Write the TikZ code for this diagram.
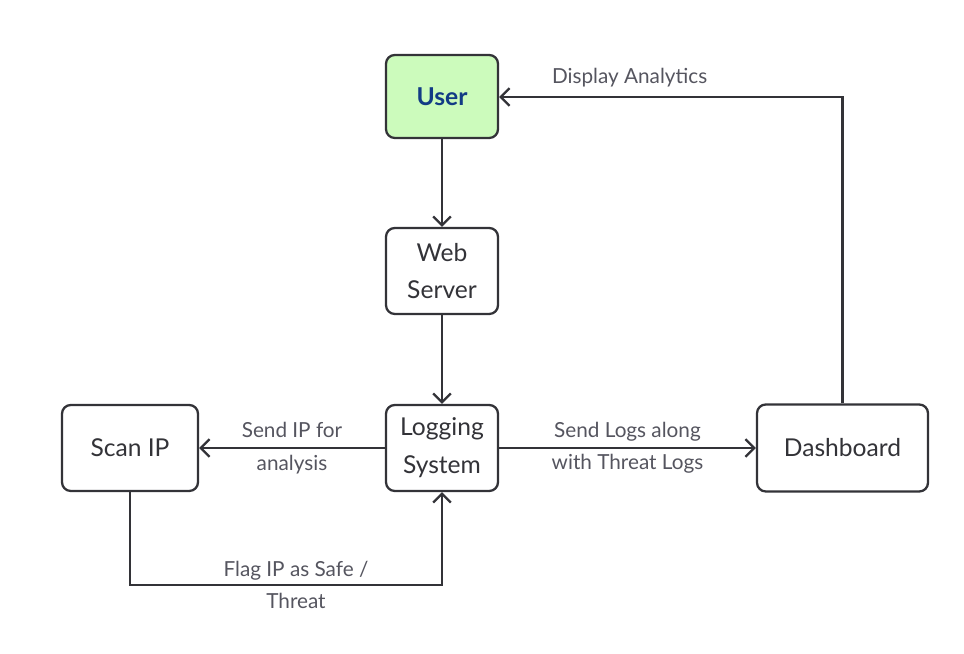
\documentclass[tikz,border=0pt]{standalone}
\usepackage{fontspec}
\setmainfont{Lato}
\usetikzlibrary{arrows.meta}
\definecolor{boxline}{HTML}{333338}
\definecolor{userfill}{HTML}{CCFBBC}
\definecolor{usertext}{HTML}{123B85}
\definecolor{labeltext}{HTML}{55555F}

\begin{document}
\begin{tikzpicture}[
		block/.style={rectangle, draw=boxline, line width=1.3pt, rounded corners=5pt, fill=white, align=center, font=\fontsize{14}{21.5}\selectfont, text=boxline},
		flow/.style={-{Straight Barb[length=5pt, width=10pt, line width=1.3pt]}, line width=1.3pt, draw=boxline},
		lbl/.style={align=center, font=\fontsize{11.8}{18.5}\selectfont, text=labeltext}
	]
				\useasboundingbox (0, 0) rectangle (19.28, 13.08);
				% Nodes
				\node[block, fill=userfill, text=usertext, font=\bfseries\fontsize{14}{21.5}\selectfont, minimum width=2.24cm, minimum height=1.66cm] (user) at (8.84, 11.15) {User};
				\node[block, minimum width=2.24cm, minimum height=1.72cm] (web) at (8.84, 7.66) {Web\\Server};
				\node[block, minimum width=2.24cm, minimum height=1.72cm] (log) at (8.84, 4.12) {Logging\\System};
				\node[block, minimum width=2.72cm, minimum height=1.72cm] (scan) at (2.60, 4.12) {Scan IP};
				\node[block, minimum width=3.42cm, minimum height=1.74cm] (dash) at (16.85, 4.12) {Dashboard};
				\coordinate (flag) at (2.60, 1.38);
				\coordinate (disp) at (16.85, 11.14);
	
				% Arrows
				\draw[flow] (user) -- (web);
				\draw[flow] (web) -- (log);
				\draw[flow] (log) -- node[lbl] {Send IP for\\analysis} (scan);
				\draw[flow] (log) -- node[lbl] {Send Logs along\\with Threat Logs} (dash);
				\draw[flow] (scan.south) -- (flag) -| node[lbl, pos=0.25, xshift=0.2cm] {Flag IP as Safe /\\Threat} (log.south);
				\draw[flow] (dash.north) -- (disp) -- node[lbl, pos=0.62, yshift=0.38cm] {Display Analytics} (user.east |- disp);
			\end{tikzpicture}
\end{document}
